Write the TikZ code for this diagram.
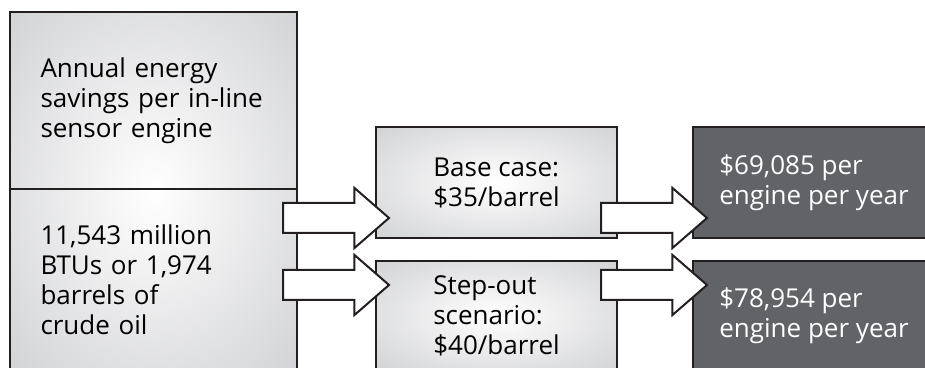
\documentclass[tikz,border=0pt]{standalone}
\usepackage{fontspec}
\setmainfont{Open Sans}
\usetikzlibrary{shapes.arrows,backgrounds}
\definecolor{inkLine}{RGB}{35,31,32}
\definecolor{boxGray}{RGB}{202,203,206}
\definecolor{boxDark}{RGB}{98,99,103}
\pgfdeclareradialshading{boxGlow}{\pgfpoint{0bp}{0bp}}{color(0bp)=(white); color(42bp)=(boxGray); color(72bp)=(boxGray)}
\newcommand{\boxfont}{\fontsize{13}{15}\selectfont}

\begin{document}
\begin{tikzpicture}[x=0.5pt,y=0.5pt,
    cell/.style={draw=inkLine,line width=1pt,align=left,font=\boxfont,
                 inner sep=0pt,outer sep=0pt,anchor=north west},
    lite/.style={cell,shade,shading=boxGlow},
    dark/.style={cell,fill=boxDark,text=white},
    fat/.style={single arrow,draw=inkLine,line width=1pt,fill=white,
                inner xsep=0pt,inner ysep=7pt,outer sep=0pt,minimum height=53pt,
                single arrow head extend=7.5pt,single arrow tip angle=82,anchor=tip}]
  \useasboundingbox (0,0) rectangle (925,368);
  % left column
  \node[cell,text width=113pt,minimum width=143.5pt,minimum height=88.5pt] (savings) at (10,356)
    {Annual energy\\ savings per in-line\\ sensor engine};
  \node[cell,text width=113pt,minimum width=143.5pt,minimum height=91pt] (amount) at (savings.south west)
    {11,543 million\\ BTUs or 1,974\\ barrels of\\ crude oil};
  \begin{scope}[on background layer]
    \shade[shading=boxGlow] (savings.north west) rectangle (amount.south east);
  \end{scope}
  % oil price cases
  \node[lite,minimum width=120.5pt,minimum height=55.5pt] (base) at (376,241)
    {Base case:\\ \$35/barrel};
  \node[lite,minimum width=120.5pt,minimum height=55pt] (stepout) at (376,107)
    {Step-out\\ scenario:\\ \$40/barrel};
  % results
  \node[dark,minimum width=121pt,minimum height=55.5pt] (pay35) at (693,241)
    {\$69,085 per\\ engine per year};
  \node[dark,minimum width=121pt,minimum height=55pt] (pay40) at (693,107)
    {\$78,954 per\\ engine per year};
  % block arrows
  \node[fat] (toBase) at ([xshift=6.5pt,yshift=10pt]base.south west) {};
  \node[fat] (toStep) at ([xshift=6.5pt,yshift=-12pt]stepout.north west) {};
  \node[fat] (toPay35) at ([xshift=7pt,yshift=10pt]pay35.south west) {};
  \node[fat] (toPay40) at ([xshift=7pt,yshift=-12pt]pay40.north west) {};
\end{tikzpicture}
\end{document}
